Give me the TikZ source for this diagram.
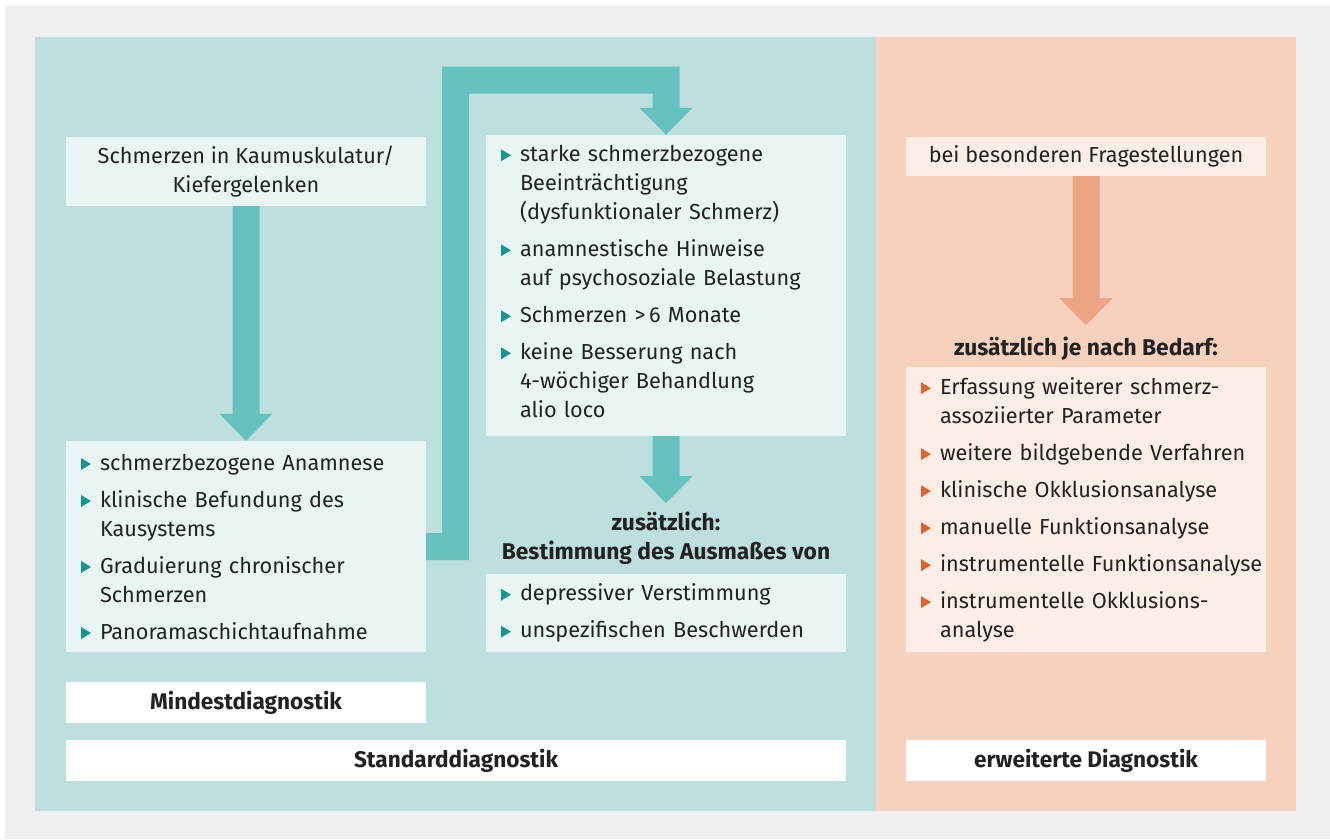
\documentclass[tikz,border=0pt]{standalone}
\usepackage{xcolor}
\usepackage{fontspec}
\setmainfont{Fira Sans}
\usetikzlibrary{calc}

\definecolor{outerbg}{HTML}{EFEFEF}
\definecolor{tealbg}{HTML}{BDE0DF}
\definecolor{tealarr}{HTML}{66C2BE}
\definecolor{tealbox}{HTML}{E9F5F5}
\definecolor{tealbul}{HTML}{17958F}
\definecolor{orabg}{HTML}{F5D1BE}
\definecolor{oraarr}{HTML}{ECA583}
\definecolor{orabox}{HTML}{FCEEE6}
\definecolor{orabul}{HTML}{E0632F}
\definecolor{txt}{HTML}{222222}

\newcommand\listsetup{\raggedright\leftskip=15pt\relax\parskip=8pt\relax}

\tikzset{
	panel/.style={anchor=north west, inner sep=0pt},
	box/.style={minimum width=360pt, inner sep=0pt, text=txt, font=\fontsize{21.7}{29}\selectfont},
	lbl/.style={box, fill=white, minimum height=41pt, font=\fontsize{22.6}{29}\selectfont\bfseries},
	listbox/.style={box, inner xsep=0pt, inner ysep=0pt, text width=360pt, execute at begin node=\listsetup},
	head/.style={align=center, inner sep=0pt, text=txt, font=\fontsize{22.8}{29}\selectfont\bfseries},
}

\begin{document}
\begin{tikzpicture}[x=1pt,y=-1pt]
	\newcommand\itm[2][tealbul]{\hangindent=19pt\relax\hangafter=1\relax\noindent\makebox[19pt][l]{\tikz[x=1pt,y=1pt]\fill[#1] (0,0) -- (0,12) -- (10,6) -- cycle;}#2\par}
	\newcommand\BlockArrow[3]{\fill[#1] ($(#3 |- #2)+(-13.5,0)$) -- ($(#3)+(-13.5,-27)$) -- ($(#3)+(-26.5,-27)$) -- (#3) -- ($(#3)+(26.5,-27)$) -- ($(#3)+(13.5,-27)$) -- ($(#3 |- #2)+(13.5,0)$) -- cycle;}

	\useasboundingbox (0,0) rectangle (1330,839);
	\fill[outerbg] (5,6) rectangle (1330,839);

	% panels
	\node[panel, fill=tealbg, minimum width=841pt, minimum height=774pt] (std) at (35,37) {};
	\node[panel, fill=orabg, minimum width=420pt, minimum height=774pt] (ext) at (876,37) {};

	% Standarddiagnostik
	\node[box, fill=tealbox, minimum height=69pt, align=center] (pain) at (246,171.5) {Schmerzen in Kaumuskulatur/\\Kiefergelenken};
	\node[listbox, fill=tealbox, minimum height=211pt] (mind) at (246,546.5) {%
		\itm{schmerzbezogene Anamnese}%
		\itm{klinische Befundung des\newline Kausystems}%
		\itm{Graduierung chronischer\newline Schmerzen}%
		\itm{Panoramaschichtaufnahme}};
	\node[lbl] (mindlbl) at (246,702.5) {Mindestdiagnostik};
	\node[listbox, fill=tealbox, minimum height=301pt] (crit) at (666,285.5) {%
		\itm{starke schmerzbezogene\newline Beeinträchtigung\newline (dysfunktionaler Schmerz)}%
		\itm{anamnestische Hinweise\newline auf psychosoziale Belastung}%
		\itm{Schmerzen >\,6 Monate}%
		\itm{keine Besserung nach\newline 4-wöchiger Behandlung\newline alio loco\strut}};
	\node[head] (extra) at (666,538) {zusätzlich:\\Bestimmung des Ausmaßes von};
	\node[listbox, fill=tealbox, minimum height=78pt] (dep) at (666,613) {%
		\itm{depressiver Verstimmung}%
		\itm{unspezifischen Beschwerden}};
	\node[lbl, minimum width=780pt] (stdlbl) at (456,760.5) {Standarddiagnostik};

	% erweiterte Diagnostik
	\node[box, fill=orabox, minimum height=39pt] (quest) at (1086,156.5) {bei besonderen Fragestellungen};
	\node[head] (bedarf) at (1086,348.5) {zusätzlich je nach Bedarf:};
	\node[listbox, fill=orabox, minimum height=285pt] (opt) at (1086,509.5) {%
		\itm[orabul]{Erfassung weiterer schmerz-\newline assoziierter Parameter}%
		\itm[orabul]{weitere bildgebende Verfahren}%
		\itm[orabul]{klinische Okklusionsanalyse}%
		\itm[orabul]{manuelle Funktionsanalyse}%
		\itm[orabul]{instrumentelle Funktionsanalyse}%
		\itm[orabul]{instrumentelle Okklusions-\newline analyse}};
	\node[lbl] (extlbl) at (1086,760.5) {erweiterte Diagnostik};

	% arrows
	\coordinate (t2) at ($(crit.south)+(0,67)$);
	\coordinate (t3) at ($(quest.south)+(0,149)$);
	\BlockArrow{tealarr}{pain.south}{mind.north}
	\BlockArrow{tealarr}{crit.south}{t2}
	\BlockArrow{oraarr}{quest.south}{t3}

	\coordinate (bend) at (455.5,80);
	\fill[tealarr] ($(mind.east)+(0,-13.5)$) -- ($(bend |- mind.east)+(-13.5,-13.5)$) -- ($(bend)+(-13.5,-13.5)$)
		-- ($(bend -| crit.north)+(13.5,-13.5)$) -- ($(crit.north)+(13.5,-27)$) -- ($(crit.north)+(26.5,-27)$)
		-- (crit.north) -- ($(crit.north)+(-26.5,-27)$) -- ($(crit.north)+(-13.5,-27)$)
		-- ($(bend -| crit.north)+(-13.5,13.5)$) -- ($(bend)+(13.5,13.5)$) -- ($(bend |- mind.east)+(13.5,13.5)$)
		-- ($(mind.east)+(0,13.5)$) -- cycle;
\end{tikzpicture}
\end{document}
